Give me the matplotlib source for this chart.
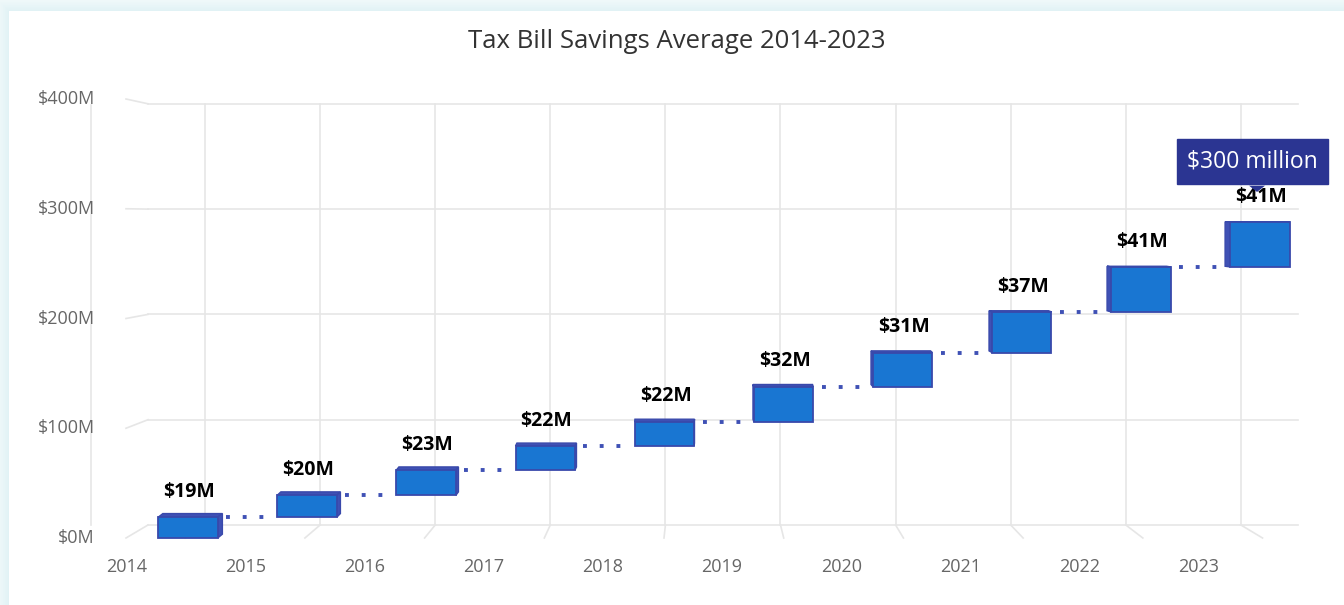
import numpy as np
import matplotlib
matplotlib.use("Agg")
import matplotlib.pyplot as plt
from matplotlib.patches import Polygon

# ---- data ----
years = ["2014", "2015", "2016", "2017", "2018", "2019", "2020", "2021", "2022", "2023"]
savings = [19, 20, 23, 22, 22, 32, 31, 37, 41, 41]          # $M added each year
labels = ["$19M", "$20M", "$23M", "$22M", "$22M", "$32M", "$31M", "$37M", "$41M", "$41M"]
y_ticks = [0, 100, 200, 300, 400]
y_tick_labels = ["$0M", "$100M", "$200M", "$300M", "$400M"]
total_label = "$300 million"
title = "Tax Bill Savings Average 2014-2023"

# ---- styles ----
plt.rcParams['font.family'] = ['Open Sans', 'DejaVu Sans']
bar_face = '#1976d2'
bar_edge = '#3949ab'
side_col = '#3f51b5'
grid_col = '#e6e6e6'
dot_col = '#3f51b5'
box_col = '#2b3592'

W, H = 1344, 605
fig = plt.figure(figsize=(W / 100, H / 100), dpi=100)

# card background with light cyan shadow
bg = fig.add_axes([0, 0, 1, 1], zorder=-10)
yy, xx = np.mgrid[0:H, 0:W]
dist = np.maximum(np.maximum(11 - yy, 0), np.maximum(9 - xx, 0)).astype(float)
c_in = np.array([1.0, 1.0, 1.0])
c_out = np.array([0.88, 0.95, 0.96])
t = np.clip(dist / 3.0, 0, 1)[..., None]
img = c_in * (1 - t) + c_out * t
fade = np.clip(dist / 11.0, 0, 1)[..., None]
img = np.where(dist[..., None] > 0, c_out * (1 - 0.5 * fade) + c_in * 0.5 * fade, img)
bg.imshow(img, aspect='auto', extent=[0, W, H, 0])
bg.axis('off')

# main axes: x in category units, y in $M, mapped to pixels of the picture
ax = fig.add_axes([0, 0, 1, 1])
px_per_cat = 119.1
x0_px = 188.0
px_per_m = 1.0975
y0_px = 538.0
ax.set_xlim(-x0_px / px_per_cat, (W - x0_px) / px_per_cat)
ax.set_ylim((y0_px - H) / px_per_m, y0_px / px_per_m)
ax.axis('off')

n = len(savings)
xs = np.arange(n)
tops = np.cumsum(savings)
bottoms = tops - np.array(savings)

# back wall grid (perspective toward a vanishing point)
back_sx = 115.1 / 119.1
back_x0 = 17.0 / 119.1
back_sy = 1.053 / 1.0975
back_y0 = 13.0 / 1.0975
x_left_back = (148 - x0_px) / px_per_cat
x_left_front = (126 - x0_px) / px_per_cat
x_right = (1298 - x0_px) / px_per_cat
for v, lab in zip(y_ticks, y_tick_labels):
    yb = back_y0 + back_sy * v
    ax.plot([x_left_back, x_right], [yb, yb], color=grid_col, lw=1.2, zorder=1)
    ax.plot([x_left_front, x_left_back], [v, yb], color=grid_col, lw=1.2, zorder=1)
    ax.text((95 - x0_px) / px_per_cat, v, lab, ha='right', va='center',
            fontsize=13, color='#666666')
y_top_back = back_y0 + back_sy * max(y_ticks)
for i in xs:
    xb = back_x0 + back_sx * i
    ax.plot([xb, xb], [back_y0, y_top_back], color=grid_col, lw=1.2, zorder=1)
    xf = 4.3 + (xb - 4.3) * 1.04
    ax.plot([xb, xf], [back_y0, 0], color=grid_col, lw=1.2, zorder=1)
# left axis line
ax.plot([(91 - x0_px) / px_per_cat] * 2, [back_y0, y_top_back - 1], color=grid_col, lw=1.2, zorder=1)

# x category labels
for i, yr in enumerate(years):
    ax.text(i - 0.516, -26, yr, ha='center', va='center', fontsize=13, color='#666666')

# bars with a small 3D look
w = 0.5
k = 0.009
vp_x, vp_y = 4.3, 298.0
for i in xs:
    l, r = i - w / 2, i + w / 2
    b, t_ = bottoms[i], tops[i]
    sx = k * (vp_x - i)
    syt = k * (vp_y - t_) * 1.3
    syb = k * (vp_y - b) * 1.3
    top_face = [(l, t_), (r, t_), (r + sx, t_ + syt), (l + sx, t_ + syt)]
    ax.add_patch(Polygon(top_face, closed=True, fc=side_col, ec=bar_edge, lw=1, zorder=3))
    if sx > 0:
        side = [(r, b), (r, t_), (r + sx, t_ + syt), (r + sx, b + syb)]
    else:
        side = [(l, b), (l, t_), (l + sx, t_ + syt), (l + sx, b + syb)]
    ax.add_patch(Polygon(side, closed=True, fc=side_col, ec=bar_edge, lw=1, zorder=3))
ax.bar(xs, savings, bottom=bottoms, width=w, color=bar_face, edgecolor=bar_edge,
       linewidth=1.3, zorder=4)

# dotted connectors
for i in xs[:-1]:
    ax.plot([i + w / 2 + 0.07, i + 1 - w / 2 - 0.05], [tops[i], tops[i]], color=dot_col,
            lw=2.8, linestyle=(0, (1, 3.3)), dash_capstyle='butt', zorder=2)

# value labels
for i in xs:
    ax.text(i + 0.01, tops[i] + 23, labels[i], ha='center', va='center', fontsize=14,
            fontweight='bold', color='black', zorder=6)

# total callout
bx = n - 1 - 0.06
by = tops[-1] + 55
ax.text(bx, by, total_label, ha='center', va='center', fontsize=16.5, color='white', zorder=8,
        bbox=dict(boxstyle='square,pad=0.45', fc=box_col, ec=box_col))
cx = n - 1 - 0.024
ax.add_patch(Polygon([(cx - 0.067, tops[-1] + 33), (cx + 0.067, tops[-1] + 33),
                      (cx, tops[-1] + 27.3)], closed=True, fc=box_col, ec='none', zorder=7))

fig.text(677 / W, 1 - 42 / H, title, ha='center', va='center', fontsize=18.5, color='#333333')

fig.savefig('out.png', dpi=100)
